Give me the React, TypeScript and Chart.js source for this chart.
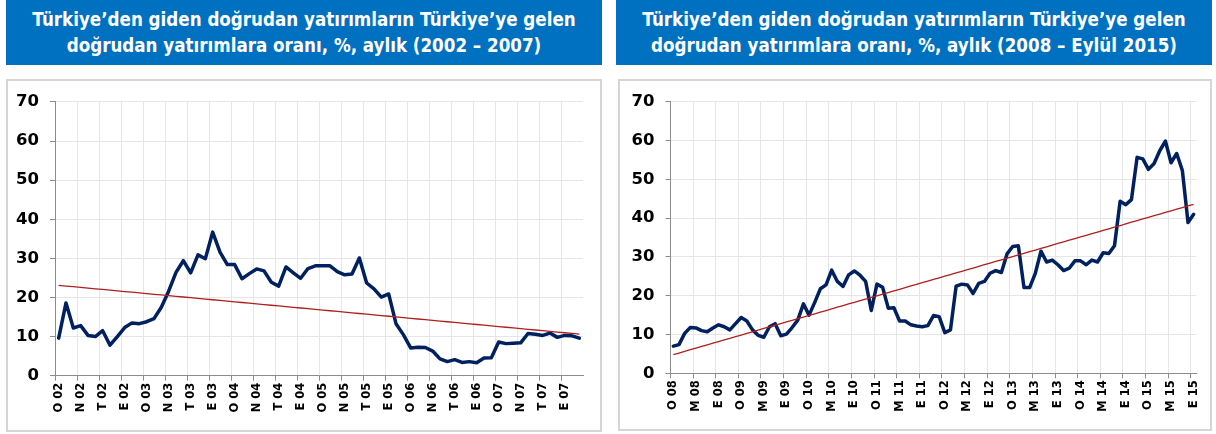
import React, { useEffect, useRef } from 'react';
import { Chart, registerables } from 'chart.js';

Chart.register(...registerables);

// ---------- DATA ----------
const MONTH_INITIALS = ['O', 'Ş', 'M', 'N', 'M', 'H', 'T', 'A', 'E', 'E', 'K', 'A'];
const YEARS_A = ['02', '03', '04', '05', '06', '07'];
const YEARS_B = ['08', '09', '10', '11', '12', '13', '14', '15'];
const CATEGORIES_A = YEARS_A.flatMap((y) => MONTH_INITIALS.map((m) => `${m} ${y}`));
const CATEGORIES_B = YEARS_B.flatMap((y) => MONTH_INITIALS.map((m) => `${m} ${y}`)).slice(0, 93);
const LABEL_STEP_A = 3;
const LABEL_STEP_B = 4;
const Y_TICKS = [0, 10, 20, 30, 40, 50, 60, 70];

const TITLE_A = ['Türkiye’den giden doğrudan yatırımların Türkiye’ye gelen', 'doğrudan yatırımlara oranı, %, aylık (2002 – 2007)'];
const TITLE_B = ['Türkiye’den giden doğrudan yatırımların Türkiye’ye gelen', 'doğrudan yatırımlara oranı, %, aylık (2008 – Eylül 2015)'];

// Jan 2002 – Dec 2007
const RATIO_A = [
  9.6, 18.6, 12.2, 12.8, 10.3, 10.0, 11.5, 7.8, 10.0, 12.3, 13.5, 13.3,
  13.8, 14.6, 17.5, 21.6, 26.4, 29.4, 26.3, 30.9, 29.9, 36.7, 31.6, 28.4,
  28.4, 24.8, 26.1, 27.3, 26.8, 23.9, 22.9, 27.8, 26.3, 24.9, 27.4, 28.1,
  28.1, 28.1, 26.6, 25.8, 26.0, 30.1, 23.7, 22.2, 20.1, 20.9, 13.3, 10.5,
  7.1, 7.3, 7.2, 6.3, 4.3, 3.6, 4.1, 3.4, 3.6, 3.3, 4.5, 4.6,
  8.6, 8.2, 8.3, 8.4, 10.8, 10.6, 10.3, 10.9, 9.8, 10.3, 10.2, 9.6,
];

// Jan 2008 – Sep 2015
const RATIO_B = [
  7.0, 7.4, 10.3, 11.8, 11.7, 11.0, 10.7, 11.7, 12.5, 12.0, 11.2, 12.8,
  14.4, 13.5, 11.2, 9.8, 9.3, 12.0, 12.8, 9.7, 10.1, 11.8, 13.7, 17.9,
  15.0, 18.3, 21.8, 22.8, 26.6, 23.7, 22.4, 25.4, 26.4, 25.3, 23.7, 16.2,
  23.0, 22.2, 16.8, 16.9, 13.5, 13.5, 12.5, 12.2, 12.0, 12.3, 14.9, 14.6,
  10.5, 11.2, 22.5, 23.0, 22.8, 20.6, 23.2, 23.7, 25.8, 26.5, 26.0, 30.8,
  32.7, 32.9, 22.1, 22.1, 25.8, 31.5, 28.7, 29.2, 28.0, 26.5, 27.1, 29.0,
  29.0, 28.0, 29.2, 28.7, 31.1, 30.9, 32.9, 44.4, 43.5, 44.8, 55.7, 55.3,
  52.6, 54.1, 57.4, 59.9, 54.3, 56.7, 52.3, 38.9, 41.0,
];

// ---------- STYLE ----------
const SERIES_COLOR = '#002060';
const TREND_COLOR = '#B01E1E';
const GRID_COLOR = '#e6e6e6';
const AXIS_COLOR = '#8c8c8c';
const TITLE_BG = '#0070C0';

function linearTrend(values: number[]): number[] {
  const n = values.length;
  let sx = 0, sy = 0, sxx = 0, sxy = 0;
  values.forEach((v, i) => {
    sx += i; sy += v; sxx += i * i; sxy += i * v;
  });
  const slope = (n * sxy - sx * sy) / (n * sxx - sx * sx);
  const icpt = (sy - slope * sx) / n;
  return values.map((_, i) => icpt + slope * i);
}

type PanelProps = {
  labels: string[];
  values: number[];
  step: number;
  width: number;
  height: number;
  yAxisWidth: number;
  xAxisHeight: number;
  padRight: number;
  padTop: number;
};

function LineChart(p: PanelProps) {
  const ref = useRef<HTMLCanvasElement | null>(null);
  useEffect(() => {
    if (!ref.current) return;
    const chart = new Chart(ref.current, {
      type: 'line',
      data: {
        labels: p.labels,
        datasets: [
          {
            label: 'Trend',
            data: linearTrend(p.values),
            borderColor: TREND_COLOR,
            borderWidth: 1.3,
            pointRadius: 0,
            tension: 0,
          },
          {
            label: 'Oran',
            data: p.values,
            borderColor: SERIES_COLOR,
            borderWidth: 3.5,
            pointRadius: 0,
            tension: 0,
            borderJoinStyle: 'round',
            borderCapStyle: 'round',
          },
        ],
      },
      options: {
        animation: false,
        responsive: false,
        devicePixelRatio: 1,
        layout: { padding: { left: 0, right: p.padRight, top: p.padTop, bottom: 0 } },
        plugins: { legend: { display: false }, tooltip: { enabled: false }, title: { display: false } },
        scales: {
          x: {
            type: 'category',
            offset: true,
            afterFit: (s: any) => { s.height = p.xAxisHeight; },
            grid: {
              offset: true,
              drawOnChartArea: true,
              color: (c: any) => (c.index % p.step === 0 ? GRID_COLOR : 'rgba(0,0,0,0)'),
              tickColor: (c: any) => (c.index % p.step === 0 ? AXIS_COLOR : 'rgba(0,0,0,0)'),
              tickLength: 5,
            },
            border: { color: AXIS_COLOR, width: 1 },
            ticks: {
              autoSkip: false,
              maxRotation: 90,
              minRotation: 90,
              padding: 2,
              color: '#000',
              font: { family: 'DejaVu Sans', weight: 'bold', size: 11.5 },
              callback: (_v: any, i: number) => (i % p.step === 0 ? p.labels[i] : ''),
            },
          },
          y: {
            min: 0,
            max: 70,
            afterFit: (s: any) => { s.width = p.yAxisWidth; },
            afterBuildTicks: (s: any) => { s.ticks = Y_TICKS.map((v) => ({ value: v })); },
            grid: { color: GRID_COLOR, tickColor: AXIS_COLOR, tickLength: 5 },
            border: { color: AXIS_COLOR, width: 1 },
            ticks: {
              padding: 11,
              color: '#000',
              font: { family: 'DejaVu Sans', weight: 'bold', size: 16.5 },
            },
          },
        },
      },
    } as any);
    return () => chart.destroy();
  }, []);
  return <canvas ref={ref} width={p.width} height={p.height} style={{ display: 'block', width: p.width, height: p.height }} />;
}

function Title({ lines, left, width }: { lines: string[]; left: number; width: number }) {
  return (
    <div
      style={{
        position: 'absolute',
        left,
        top: 0,
        width,
        height: 65,
        background: TITLE_BG,
        color: '#fff',
        display: 'flex',
        flexDirection: 'column',
        alignItems: 'center',
        justifyContent: 'center',
        fontFamily: '"DejaVu Sans Condensed", "DejaVu Sans", sans-serif',
        fontWeight: 'bold',
        fontSize: 18.6,
        lineHeight: '26px',
        whiteSpace: 'nowrap',
      }}
    >
      {lines.map((l, i) => (
        <div key={i}>{l}</div>
      ))}
    </div>
  );
}

export default function App() {
  return (
    <div style={{ position: 'absolute', left: 0, top: 0, width: 1216, height: 434, background: '#fff', overflow: 'hidden' }}>
      <Title lines={TITLE_A} left={6} width={596} />
      <Title lines={TITLE_B} left={616} width={596} />
      <div style={{ position: 'absolute', left: 6, top: 79, width: 596, height: 353, boxSizing: 'border-box', border: '2px solid #d6d6d6' }}>
        <LineChart labels={CATEGORIES_A} values={RATIO_A} step={LABEL_STEP_A} width={592} height={349}
          yAxisWidth={47} xAxisHeight={54.3} padRight={17} padTop={16.5} />
      </div>
      <div style={{ position: 'absolute', left: 618, top: 79, width: 594, height: 352, boxSizing: 'border-box', border: '2px solid #d6d6d6' }}>
        <LineChart labels={CATEGORIES_B} values={RATIO_B} step={LABEL_STEP_B} width={590} height={348}
          yAxisWidth={50.5} xAxisHeight={55.7} padRight={13.5} padTop={16.5} />
      </div>
    </div>
  );
}
